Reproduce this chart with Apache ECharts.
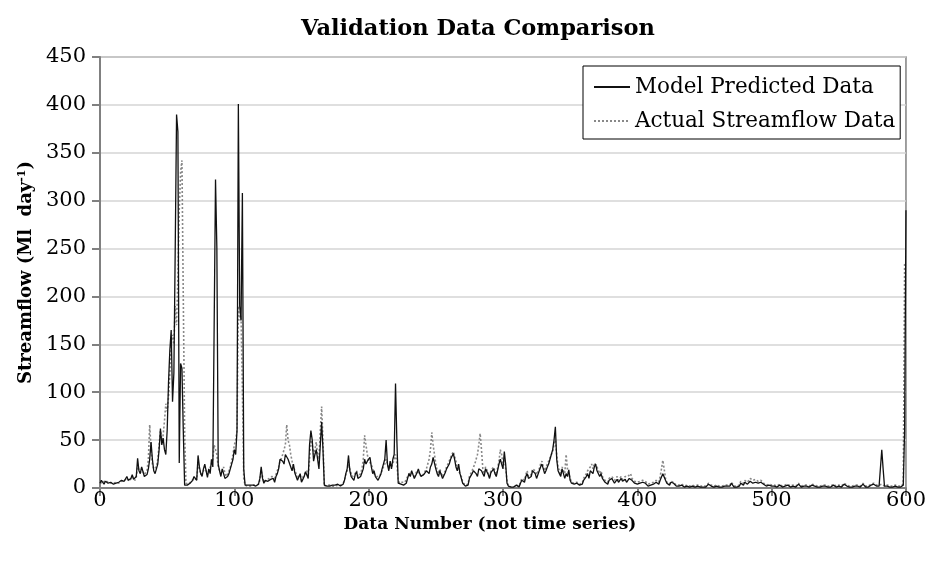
<!DOCTYPE html>
<html><head><meta charset="utf-8">
<script src="https://cdn.jsdelivr.net/npm/echarts@6/dist/echarts.min.js"></script>
<style>html,body{margin:0;padding:0;background:#fff}#c{width:929px;height:562px}</style>
</head><body><div id="c"></div>
<script>
const titleText = "Validation Data Comparison";
const xTitle = "Data Number (not time series)";
const seriesNames = ["Model Predicted Data", "Actual Streamflow Data"];
const xTicks = [0, 100, 200, 300, 400, 500, 600];
const yTicks = [0, 50, 100, 150, 200, 250, 300, 350, 400, 450];

// Model predicted streamflow, data number 0..600
const modelValues = [
/*0*/   5,8,6,4,7,9,5,3,6,8,4,3,5,7,6,4,8,10,7,9,
/*20*/  12,8,6,10,14,9,7,12,31,18,15,22,20,12,10,14,20,30,48,30,
/*40*/  18,15,20,25,40,62,45,52,40,35,60,110,144,165,90,120,250,390,372,26,
/*60*/  130,125,60,3,2,3,4,5,6,8,12,10,8,34,22,15,12,20,25,18,
/*80*/  11,20,15,30,22,20,322,250,25,18,12,20,15,10,8,12,15,20,25,30,
/*100*/ 40,35,60,401,190,175,308,20,3,2,3,2,3,2,3,2,2,3,4,10,
/*120*/ 22,10,5,8,6,7,5,9,8,10,6,12,15,20,30,32,28,25,35,34,
/*140*/ 30,28,22,18,25,16,12,8,10,15,6,9,12,17,15,10,45,60,50,28,
/*160*/ 35,40,30,20,45,69,40,3,2,2,3,2,4,3,2,3,2,4,3,2,
/*180*/ 3,4,8,15,20,34,18,12,10,8,14,17,10,8,12,16,20,30,25,28,
/*200*/ 30,32,22,15,18,12,10,8,10,14,20,25,30,50,25,18,28,20,30,35,
/*220*/ 109,50,5,3,4,5,3,4,5,10,15,12,18,14,10,12,16,20,15,12,
/*240*/ 10,14,12,18,20,15,22,25,32,30,20,15,12,18,14,10,12,16,20,22,
/*260*/ 25,30,28,36,30,22,18,25,15,10,5,3,2,4,3,10,12,15,18,20,
/*280*/ 15,12,20,22,18,15,12,20,18,14,10,16,18,20,15,12,10,25,30,32,
/*300*/ 20,38,25,5,2,1,1,2,1,2,3,2,1,5,8,10,6,12,15,10,
/*320*/ 8,12,18,20,15,10,12,18,22,25,20,15,18,22,25,30,35,40,50,64,
/*340*/ 30,18,15,12,20,18,10,15,12,19,8,5,3,4,3,5,4,3,5,4,
/*360*/ 8,10,12,15,10,18,20,15,22,25,18,20,12,15,10,8,6,5,4,8,
/*380*/ 6,10,8,5,7,9,6,8,10,7,5,9,6,8,10,12,8,6,5,7,
/*400*/ 4,3,5,4,6,8,5,3,2,4,3,5,4,3,6,5,4,8,10,15,
/*420*/ 15,8,5,4,3,6,8,5,3,2,1,2,1,3,2,1,1,2,3,1,
/*440*/ 1,2,1,1,3,2,1,1,2,1,1,1,2,4,3,2,1,1,3,2,
/*460*/ 1,1,2,1,1,2,3,2,1,2,5,3,1,2,1,1,2,5,4,3,
/*480*/ 6,5,4,5,7,6,5,4,6,8,5,4,6,5,4,3,2,4,3,2,
/*500*/ 2,1,2,1,1,2,3,2,1,1,2,4,3,2,1,1,2,1,1,3,
/*520*/ 4,2,1,1,2,3,2,1,1,2,3,4,2,1,1,2,1,1,2,3,
/*540*/ 2,1,1,2,1,1,3,2,1,1,2,1,1,2,4,3,2,1,1,2,
/*560*/ 1,1,2,3,2,1,1,2,4,3,1,2,1,1,3,5,4,2,2,1,
/*580*/ 2,2,40,20,2,1,2,1,1,2,1,1,2,1,1,2,1,2,3,60,
/*600*/ 290
];

// Actual (observed) streamflow, data number 0..600
const actualValues = [
/*0*/   6,7,5,5,8,8,6,4,5,7,5,4,6,6,5,5,7,9,8,8,
/*20*/  10,9,7,9,12,10,8,11,22,20,16,20,18,14,12,18,30,66,40,25,
/*40*/  20,18,22,30,45,60,50,55,70,88,80,95,120,150,160,150,190,170,220,290,
/*60*/  330,342,200,60,5,4,4,5,7,8,10,12,9,25,20,14,15,18,22,20,
/*80*/  14,18,16,25,30,45,40,35,22,20,15,18,22,15,12,14,18,22,28,35,
/*100*/ 45,50,60,190,175,180,100,10,3,2,2,3,2,2,3,2,3,3,4,8,
/*120*/ 18,12,6,7,8,8,10,12,12,12,10,14,18,22,28,31,35,40,45,66,
/*140*/ 50,45,35,28,22,20,15,10,12,14,8,10,14,15,18,12,30,50,45,35,
/*160*/ 40,48,35,30,60,85,50,2,2,3,2,3,3,2,3,2,3,3,2,3,
/*180*/ 3,5,8,14,18,25,20,15,12,10,15,18,12,10,15,20,30,55,45,35,
/*200*/ 28,30,25,20,15,14,12,10,12,15,18,22,25,30,28,20,25,22,25,30,
/*220*/ 35,25,8,5,5,6,5,6,8,12,15,14,16,15,12,14,18,16,14,12,
/*240*/ 12,15,14,20,25,30,40,58,45,35,25,18,15,20,15,12,14,18,22,25,
/*260*/ 28,32,35,38,40,28,20,20,15,12,6,4,3,5,4,12,14,18,20,25,
/*280*/ 30,35,45,57,40,20,15,22,20,16,12,18,20,22,18,14,12,28,40,35,
/*300*/ 25,30,20,8,2,1,1,2,1,2,3,3,2,6,10,12,8,14,18,12,
/*320*/ 10,14,20,22,18,14,15,20,25,28,22,18,20,25,28,30,35,38,45,50,
/*340*/ 35,22,18,15,22,20,15,35,20,15,10,6,4,5,4,6,5,4,6,5,
/*360*/ 10,12,15,18,20,22,25,20,26,28,22,24,15,18,12,10,8,7,6,10,
/*380*/ 8,12,10,8,9,12,8,10,12,9,8,12,10,12,14,15,10,8,7,9,
/*400*/ 6,5,7,6,8,10,7,5,4,6,5,7,6,5,8,7,6,12,20,29,
/*420*/ 20,10,6,5,4,7,8,6,4,3,2,3,2,4,3,2,2,3,4,2,
/*440*/ 2,3,2,2,4,3,2,2,3,2,2,2,3,5,4,3,2,2,4,3,
/*460*/ 2,2,3,2,2,3,4,3,2,3,6,4,2,3,2,2,3,7,6,5,
/*480*/ 8,7,6,8,10,9,8,6,9,10,7,6,8,7,5,4,3,5,4,3,
/*500*/ 3,2,3,2,2,3,4,3,2,2,3,5,4,3,2,2,3,2,2,4,
/*520*/ 5,3,2,2,3,4,3,2,2,3,4,5,3,2,2,3,2,2,3,4,
/*540*/ 3,2,2,3,2,2,4,3,2,2,3,2,2,3,5,4,3,2,2,3,
/*560*/ 2,2,3,4,3,2,2,3,5,4,2,3,2,2,4,6,5,3,3,2,
/*580*/ 3,5,4,3,2,2,3,2,2,3,2,2,3,2,2,3,2,3,4,235,
/*600*/ 230
];

const FONT = "DejaVu Serif";
const chart = echarts.init(document.getElementById('c'), null, {renderer: 'canvas'});
const toPairs = arr => arr.map((v, i) => [i, v]);

chart.setOption({
  animation: false,
  backgroundColor: '#ffffff',
  title: {
    text: titleText, left: 296, top: 13,
    textStyle: {fontFamily: FONT, fontWeight: 'bold', fontSize: 22.5, color: '#000'}
  },
  grid: {left: 100, right: 21, top: 57, bottom: 74, show: true, borderColor: '#808080', borderWidth: 1.5, backgroundColor: 'transparent'},
  legend: {
    orient: 'vertical', left: 583, top: 66, itemGap: 12, itemWidth: 36, itemHeight: 14,
    padding: [10, 5, 7, 10],
    borderColor: '#000', borderWidth: 1, backgroundColor: '#fff',
    itemStyle: {opacity: 0},
    textStyle: {fontFamily: FONT, fontSize: 21.5, color: '#000'},
    data: seriesNames
  },
  xAxis: {
    type: 'value', min: xTicks[0], max: xTicks[xTicks.length - 1], interval: 100,
    name: xTitle, nameLocation: 'middle', nameGap: 27,
    nameTextStyle: {fontFamily: FONT, fontWeight: 'bold', fontSize: 17, color: '#000', padding: [0, 26, 0, 0]},
    axisLine: {lineStyle: {color: '#808080', width: 2}},
    axisTick: {show: true, inside: false, length: 8, lineStyle: {color: '#808080', width: 2}},
    axisLabel: {fontFamily: FONT, fontSize: 21, color: '#000', margin: 2},
    splitLine: {show: false}
  },
  yAxis: {
    type: 'value', min: yTicks[0], max: yTicks[yTicks.length - 1], interval: 50,
    name: 'Streamflow (Ml  day{sup|-1})', nameLocation: 'middle', nameGap: 60, nameRotate: 90,
    nameTextStyle: {fontFamily: FONT, fontWeight: 'bold', fontSize: 18, color: '#000',
      rich: {sup: {fontFamily: FONT, fontWeight: 'bold', fontSize: 11, verticalAlign: 'top', padding: [0,0,8,0]}}},
    axisLine: {show: true, lineStyle: {color: '#808080', width: 2}},
    axisTick: {show: true, inside: false, length: 8, lineStyle: {color: '#808080', width: 2}},
    axisLabel: {fontFamily: FONT, fontSize: 21, color: '#000', margin: 14},
    splitLine: {show: true, lineStyle: {color: '#d4d4d4', width: 1.5}}
  },
  series: [
    {name: seriesNames[0], type: 'line', data: toPairs(modelValues), showSymbol: false, symbol: 'none',
     lineStyle: {color: '#111', width: 1.3, type: 'solid'}, itemStyle: {color: '#111'}, z: 3},
    {name: seriesNames[1], type: 'line', data: toPairs(actualValues), showSymbol: false, symbol: 'none',
     lineStyle: {color: '#888', width: 1.6, type: [2, 2]}, itemStyle: {color: '#888'}, z: 2}
  ]
});
</script>
</body></html>
